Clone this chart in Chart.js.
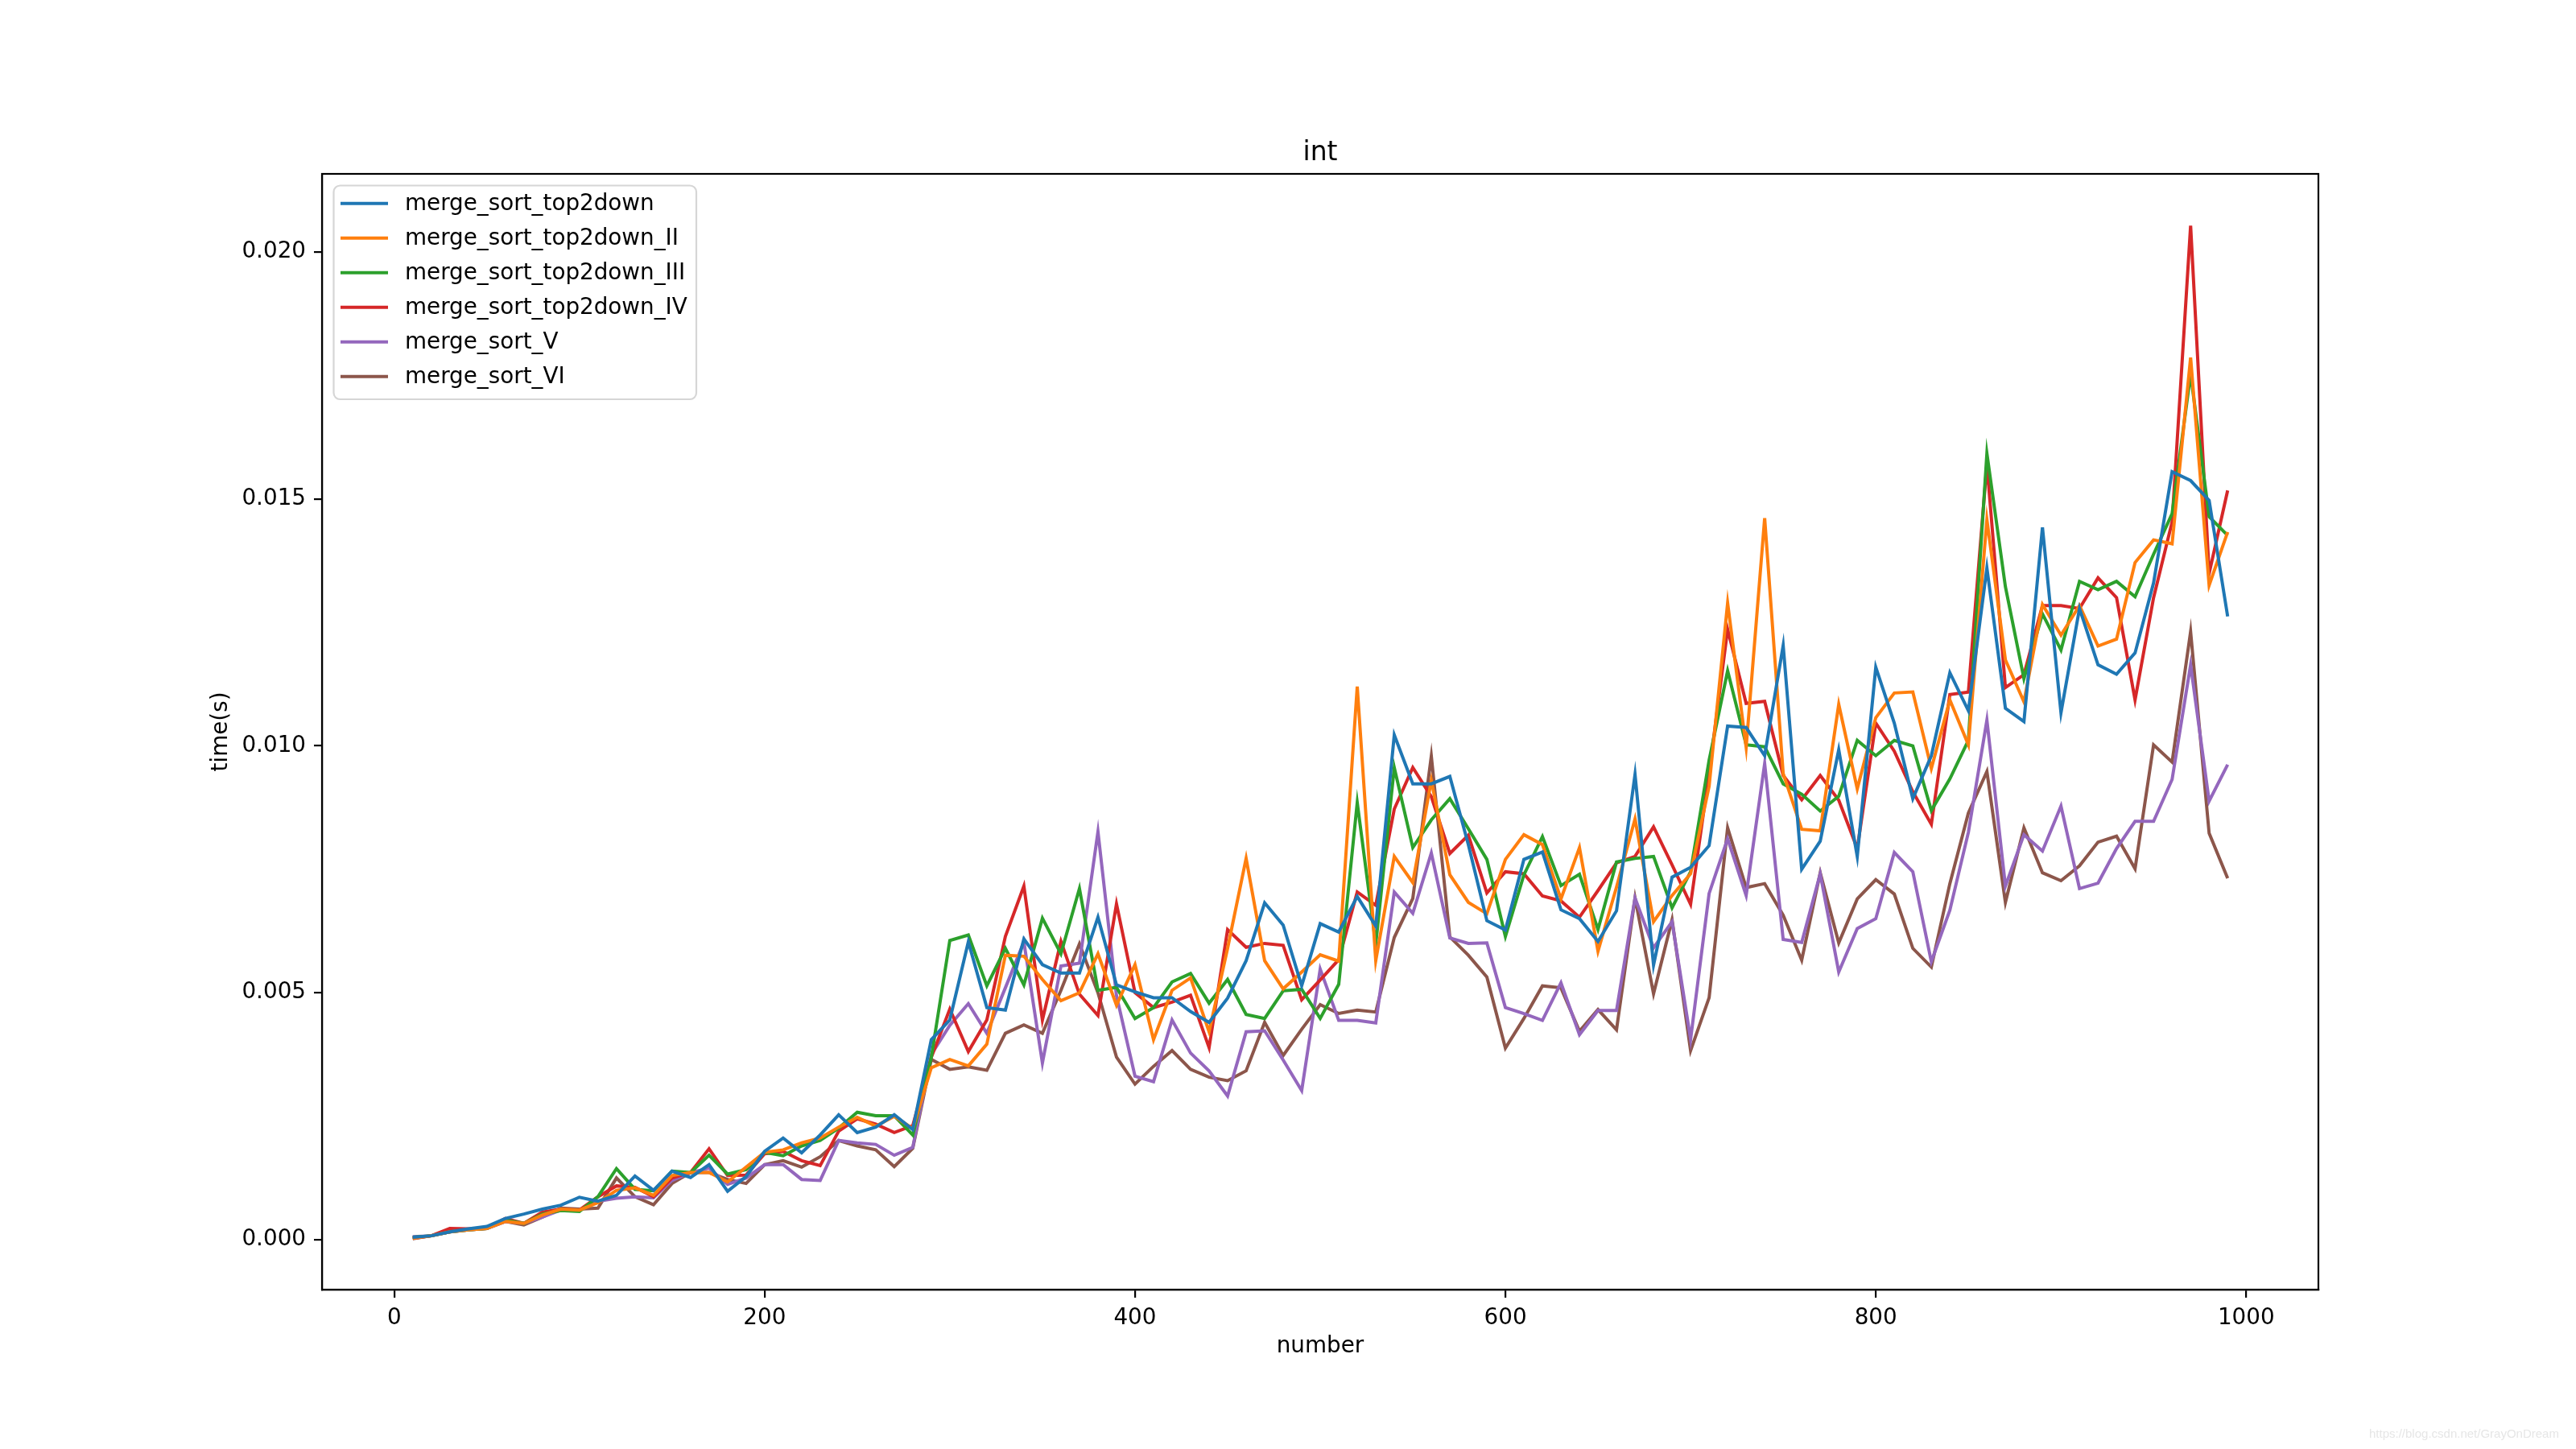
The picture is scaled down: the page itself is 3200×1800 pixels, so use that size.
<!doctype html>
<html lang="en">
<head>
  <meta charset="utf-8">
  <title>int</title>
  <script src="https://cdn.jsdelivr.net/npm/chart.js@4"></script>
  <style>
    html, body { margin: 0; padding: 0; background: #ffffff; }
    #wrap { position: relative; width: 3200px; height: 1800px; }
    .watermark {
      position: absolute; left: 2943px; top: 1772px;
      font-family: "Liberation Sans", Arial, sans-serif; font-size: 15px;
      color: #e6e6e6; white-space: nowrap;
    }
  </style>
</head>
<body>
  <div id="wrap">
    <canvas id="sortChart" width="3200" height="1800"></canvas>
    <div class="watermark">https://blog.csdn.net/GrayOnDream</div>
  </div>

  <script>
    // x values: array size used for each run
    var sizes = [];
    for (var n = 10; n <= 990; n += 10) sizes.push(n);

    var xTicks = [0, 200, 400, 600, 800, 1000];
    var yTicks = [0, 0.005, 0.010, 0.015, 0.020];
    var chartTitle = 'int';

    // timings, in milliseconds (converted to seconds below)
    var topDown = [
      0.05, 0.08, 0.16, 0.22, 0.27, 0.43, 0.52, 0.62, 0.70, 0.86,
      0.78, 0.90, 1.29, 1.00, 1.39, 1.26, 1.52, 0.98, 1.28, 1.79,
      2.06, 1.76, 2.12, 2.53, 2.17, 2.28, 2.53, 2.23, 4.05, 4.45,
      6.03, 4.70, 4.65, 6.09, 5.57, 5.40, 5.40, 6.53, 5.16, 5.02,
      4.90, 4.90, 4.62, 4.40, 4.89, 5.65, 6.82, 6.37, 5.14, 6.40,
      6.23, 6.95, 6.35, 10.22, 9.23, 9.23, 9.38, 8.00, 6.46, 6.27,
      7.70, 7.85, 6.68, 6.50, 6.04, 6.66, 9.42, 5.56, 7.34, 7.54,
      7.98, 10.40, 10.37, 9.80, 12.03, 7.50, 8.07, 9.92, 7.76, 11.59,
      10.46, 8.93, 9.80, 11.48, 10.71, 13.60, 10.76, 10.49, 14.42, 10.67,
      12.78, 11.64, 11.45, 11.88, 13.30, 15.55, 15.37, 14.97, 12.62
    ];
    var topDown2 = [
      0.03, 0.08, 0.16, 0.20, 0.23, 0.37, 0.33, 0.50, 0.62, 0.60,
      0.75, 1.00, 1.05, 0.90, 1.30, 1.36, 1.36, 1.17, 1.47, 1.77,
      1.82, 1.96, 2.06, 2.28, 2.48, 2.30, 2.50, 2.25, 3.48, 3.65,
      3.52, 3.96, 5.76, 5.74, 5.27, 4.84, 5.00, 5.79, 4.75, 5.57,
      4.05, 5.05, 5.30, 4.21, 5.90, 7.72, 5.65, 5.08, 5.42, 5.77,
      5.64, 11.20, 5.65, 7.76, 7.23, 9.30, 7.39, 6.83, 6.60, 7.70,
      8.20, 8.00, 6.90, 7.94, 5.84, 7.14, 8.52, 6.44, 6.97, 7.41,
      9.18, 12.89, 9.97, 14.61, 9.44, 8.31, 8.28, 10.84, 9.13, 10.57,
      11.07, 11.09, 9.54, 10.93, 10.02, 14.58, 11.74, 10.89, 12.86, 12.24,
      12.84, 12.02, 12.16, 13.71, 14.17, 14.09, 17.86, 13.25, 14.33
    ];
    var topDown3 = [
      0.05, 0.08, 0.16, 0.20, 0.23, 0.40, 0.33, 0.52, 0.59, 0.57,
      0.87, 1.44, 1.02, 0.99, 1.39, 1.36, 1.71, 1.33, 1.42, 1.77,
      1.70, 1.90, 2.01, 2.26, 2.58, 2.51, 2.51, 2.12, 3.69, 6.06,
      6.17, 5.14, 5.90, 5.16, 6.51, 5.79, 7.11, 5.05, 5.11, 4.48,
      4.70, 5.22, 5.39, 4.79, 5.27, 4.56, 4.48, 5.04, 5.07, 4.48,
      5.17, 8.85, 5.98, 9.56, 7.94, 8.50, 8.93, 8.32, 7.70, 6.14,
      7.39, 8.16, 7.17, 7.40, 6.28, 7.65, 7.72, 7.76, 6.72, 7.45,
      9.71, 11.52, 10.02, 9.98, 9.23, 9.02, 8.68, 8.98, 10.11, 9.80,
      10.11, 10.00, 8.69, 9.33, 10.11, 15.92, 13.22, 11.36, 12.67, 11.94,
      13.33, 13.16, 13.33, 13.02, 13.88, 14.70, 17.53, 14.64, 14.26
    ];
    var topDown4 = [
      0.03, 0.08, 0.23, 0.22, 0.23, 0.43, 0.33, 0.56, 0.62, 0.60,
      0.87, 1.09, 1.06, 0.87, 1.25, 1.36, 1.84, 1.30, 1.31, 1.74,
      1.79, 1.60, 1.50, 2.20, 2.45, 2.34, 2.17, 2.31, 3.69, 4.67,
      3.81, 4.45, 6.14, 7.16, 4.45, 6.04, 4.97, 4.54, 6.80, 5.00,
      4.70, 4.81, 4.95, 3.89, 6.28, 5.92, 6.00, 5.96, 4.86, 5.26,
      5.67, 7.04, 6.77, 8.72, 9.56, 8.97, 7.82, 8.19, 7.02, 7.45,
      7.41, 6.96, 6.86, 6.53, 7.07, 7.63, 7.76, 8.36, 7.59, 6.79,
      9.44, 12.36, 10.86, 10.90, 9.40, 8.91, 9.40, 8.90, 7.92, 10.46,
      9.89, 9.07, 8.41, 11.04, 11.09, 15.70, 11.18, 11.44, 12.84, 12.84,
      12.78, 13.40, 13.00, 10.93, 13.00, 14.53, 20.53, 13.49, 15.17
    ];
    var sortV = [
      0.06, 0.08, 0.16, 0.20, 0.23, 0.37, 0.33, 0.46, 0.60, 0.60,
      0.78, 0.84, 0.87, 0.85, 1.20, 1.36, 1.45, 1.12, 1.25, 1.52,
      1.52, 1.22, 1.20, 2.01, 1.96, 1.93, 1.71, 1.87, 3.75, 4.34,
      4.78, 4.18, 5.10, 6.03, 3.58, 5.54, 5.60, 8.26, 4.94, 3.31,
      3.20, 4.45, 3.78, 3.42, 2.91, 4.21, 4.23, 3.64, 3.02, 5.48,
      4.44, 4.44, 4.39, 7.04, 6.61, 7.83, 6.11, 6.00, 6.01, 4.70,
      4.58, 4.44, 5.20, 4.15, 4.64, 4.64, 6.92, 5.91, 6.44, 4.06,
      7.01, 8.12, 6.97, 9.64, 6.08, 6.02, 7.41, 5.42, 6.30, 6.50,
      7.84, 7.45, 5.63, 6.67, 8.25, 10.52, 7.16, 8.20, 7.87, 8.78,
      7.11, 7.22, 7.92, 8.47, 8.47, 9.32, 11.64, 8.88, 9.62
    ];
    var sortVI = [
      0.02, 0.08, 0.16, 0.20, 0.23, 0.37, 0.30, 0.46, 0.64, 0.62,
      0.64, 1.25, 0.87, 0.71, 1.14, 1.36, 1.36, 1.22, 1.14, 1.52,
      1.60, 1.47, 1.68, 2.01, 1.90, 1.82, 1.48, 1.85, 3.65, 3.45,
      3.50, 3.43, 4.18, 4.35, 4.18, 5.05, 5.99, 5.00, 3.70, 3.15,
      3.51, 3.83, 3.45, 3.29, 3.22, 3.42, 4.40, 3.73, 4.26, 4.76,
      4.58, 4.65, 4.61, 6.12, 6.91, 9.79, 6.13, 5.76, 5.32, 3.88,
      4.48, 5.14, 5.10, 4.22, 4.66, 4.25, 6.92, 4.98, 6.48, 3.83,
      4.90, 8.34, 7.13, 7.21, 6.57, 5.66, 7.43, 6.01, 6.90, 7.29,
      7.00, 5.90, 5.52, 7.21, 8.64, 9.48, 6.83, 8.34, 7.43, 7.27,
      7.57, 8.05, 8.17, 7.51, 10.02, 9.67, 12.31, 8.23, 7.32
    ];

    var seriesNames = ['merge_sort_top2down', 'merge_sort_top2down_II', 'merge_sort_top2down_III',
                       'merge_sort_top2down_IV', 'merge_sort_V', 'merge_sort_VI'];
    var seriesData = [topDown, topDown2, topDown3, topDown4, sortV, sortVI];
    var seriesColors = ['#1f77b4', '#ff7f0e', '#2ca02c', '#d62728', '#9467bd', '#8c564b'];

    var fontFamily = '"DejaVu Sans", sans-serif';

    function toPoints(arr) {
      var pts = [];
      for (var i = 0; i < arr.length; i++) {
        pts.push({ x: sizes[i], y: arr[i] / 1000 });
      }
      return pts;
    }

    var datasets = [];
    for (var s = 0; s < seriesNames.length; s++) {
      datasets.push({
        label: seriesNames[s],
        data: toPoints(seriesData[s]),
        borderColor: seriesColors[s],
        backgroundColor: seriesColors[s],
        borderWidth: 4,
        pointRadius: 0,
        tension: 0,
        fill: false
      });
    }

    // frame round the plot area (matplotlib spines) + title centred over the axes
    const framePlugin = {
      id: 'frame',
      afterDatasetsDraw(chart) {
        const a = chart.chartArea, ctx = chart.ctx;
        ctx.save();
        ctx.strokeStyle = '#000000';
        ctx.lineWidth = 2.2;
        ctx.strokeRect(a.left, a.top, a.right - a.left, a.bottom - a.top);
        ctx.fillStyle = '#000000';
        ctx.font = '33px ' + fontFamily;
        ctx.textAlign = 'center';
        ctx.textBaseline = 'alphabetic';
        ctx.fillText(chartTitle, (a.left + a.right) / 2, a.top - 17);
        ctx.restore();
      }
    };

    // legend box in the upper left, inside the axes
    const boxLegend = {
      id: 'boxLegend',
      afterDraw(chart) {
        const ctx = chart.ctx;
        const x0 = 414.5, y0 = 230.5, w = 450.5, h = 265.5, r = 8;
        ctx.save();
        ctx.fillStyle = 'rgba(255,255,255,0.8)';
        ctx.strokeStyle = '#d6d6d6';
        ctx.lineWidth = 2.2;
        ctx.beginPath();
        ctx.roundRect(x0, y0, w, h, r);
        ctx.fill();
        ctx.stroke();
        ctx.font = '27.8px ' + fontFamily;
        ctx.textBaseline = 'middle';
        ctx.textAlign = 'left';
        chart.data.datasets.forEach(function (ds, i) {
          const y = 252.7 + i * 43;
          ctx.strokeStyle = ds.borderColor;
          ctx.lineWidth = 4;
          ctx.beginPath();
          ctx.moveTo(423, y);
          ctx.lineTo(482, y);
          ctx.stroke();
          ctx.fillStyle = '#000000';
          ctx.fillText(ds.label, 503, y + 1);
        });
        ctx.restore();
      }
    };

    new Chart(document.getElementById('sortChart'), {
      type: 'line',
      data: { datasets: datasets },
      options: {
        responsive: false,
        animation: false,
        layout: { padding: { left: 0, right: 320, top: 216, bottom: 0 } },
        plugins: {
          legend: { display: false },
          tooltip: { enabled: false },
          title: { display: false }
        },
        scales: {
          x: {
            type: 'linear',
            min: -39,
            max: 1039,
            afterFit: function (scale) { scale.height = 198; },
            afterBuildTicks: function (scale) {
              scale.ticks = xTicks.map(function (v) { return { value: v }; });
            },
            ticks: {
              color: '#000000',
              font: { family: fontFamily, size: 27.8 },
              padding: 9,
              maxRotation: 0,
              callback: function (v) { return String(v); }
            },
            grid: { display: true, drawOnChartArea: false, drawTicks: true, tickLength: 10, color: '#000000', lineWidth: 2.2 },
            border: { display: true, color: '#000000', width: 2.2 },
            title: {
              display: true,
              text: 'number',
              color: '#000000',
              font: { family: fontFamily, size: 27.8 },
              padding: { top: 0, bottom: 111 }
            }
          },
          y: {
            type: 'linear',
            min: -0.00101,
            max: 0.02158,
            afterFit: function (scale) { scale.width = 400; },
            afterBuildTicks: function (scale) {
              scale.ticks = yTicks.map(function (v) { return { value: v }; });
            },
            ticks: {
              color: '#000000',
              font: { family: fontFamily, size: 27.8 },
              padding: 10,
              callback: function (v) { return Number(v).toFixed(3); }
            },
            grid: { display: true, drawOnChartArea: false, drawTicks: true, tickLength: 10, color: '#000000', lineWidth: 2.2 },
            border: { display: true, color: '#000000', width: 2.2 },
            title: {
              display: true,
              text: 'time(s)',
              color: '#000000',
              font: { family: fontFamily, size: 27.8 },
              padding: { top: 258, bottom: 0 }
            }
          }
        }
      },
      plugins: [framePlugin, boxLegend]
    });
  </script>
</body>
</html>
